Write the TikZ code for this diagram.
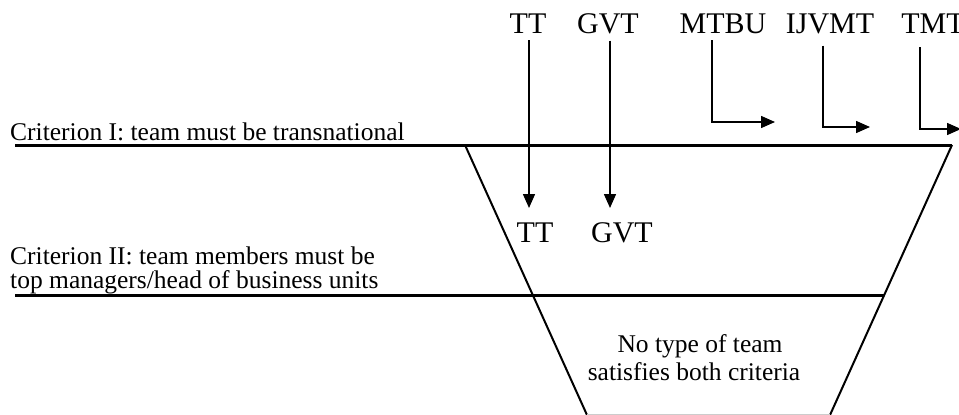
\documentclass[tikz,border=0pt]{standalone}
\usepackage{fontspec}
\setmainfont{Liberation Serif}
\usetikzlibrary{arrows.meta}
\begin{document}
\begin{tikzpicture}[x=1pt,y=-1pt,
  big/.style={font=\fontsize{30}{32}\selectfont,inner sep=0pt,anchor=base},
  small/.style={font=\fontsize{25.5}{28}\selectfont,inner sep=0pt,anchor=base west},
  mid/.style={font=\fontsize{25.5}{28}\selectfont,inner sep=0pt,anchor=base},
  level/.style={line width=3pt},
  wall/.style={line width=2pt},
  arr/.style={line width=1.5pt,-{Triangle[length=14pt,width=12pt]}}]
\useasboundingbox (0,0) rectangle (959,415);
\clip (0,0) rectangle (959,415);

% team types above the filter
\node[big] (ttTop)   at (528,33) {TT};
\node[big] (gvtTop)  at (608,33) {GVT};
\node[big] (mtbu)    at (723,33) {MTBU};
\node[big] (ijvmt)   at (830,33) {IJVMT};
\node[big] (tmt)     at (933,33) {TMT};

% criteria
\node[small] (c1)  at (10,140) {Criterion I: team must be transnational};
\node[small] (c2a) at (10,264) {Criterion II: team members must be};
\node[small] (c2b) at (10,288) {top managers/head of business units};

% funnel
\draw[level] (15,145) -- (952,145);
\draw[level] (15,295) -- (884,295);
\draw[wall] (465,145) -- (587,415);
\draw[wall] (952,145) -- (830,415);
\draw[gray!40,line width=1pt] (587,414.5) -- (830,414.5);

% teams passing criterion I
\node[big] (ttIn)  at (535,242) {TT};
\node[big] (gvtIn) at (622,242) {GVT};

\node[mid] (none1) at (700,352) {No type of team};
\node[mid] (none2) at (694,380) {satisfies both criteria};

% arrows
\draw[arr] ([xshift=1pt,yshift=-7pt]ttTop.south) -- ([xshift=1pt]ttTop.south |- 0,208);
\draw[arr] ([xshift=2pt,yshift=-7pt]gvtTop.south) -- ([xshift=2pt]gvtTop.south |- 0,208);

\coordinate (mEnd) at (775,122);
\coordinate (iEnd) at (870,127);
\coordinate (tEnd) at (961,129);
\draw[arr] ([xshift=-11pt,yshift=-7pt]mtbu.south) |- (mEnd);
\draw[arr] ([xshift=-7pt,yshift=-12pt]ijvmt.south) |- (iEnd);
\draw[arr] ([xshift=-13pt,yshift=-14pt]tmt.south) |- (tEnd);
\end{tikzpicture}
\end{document}
